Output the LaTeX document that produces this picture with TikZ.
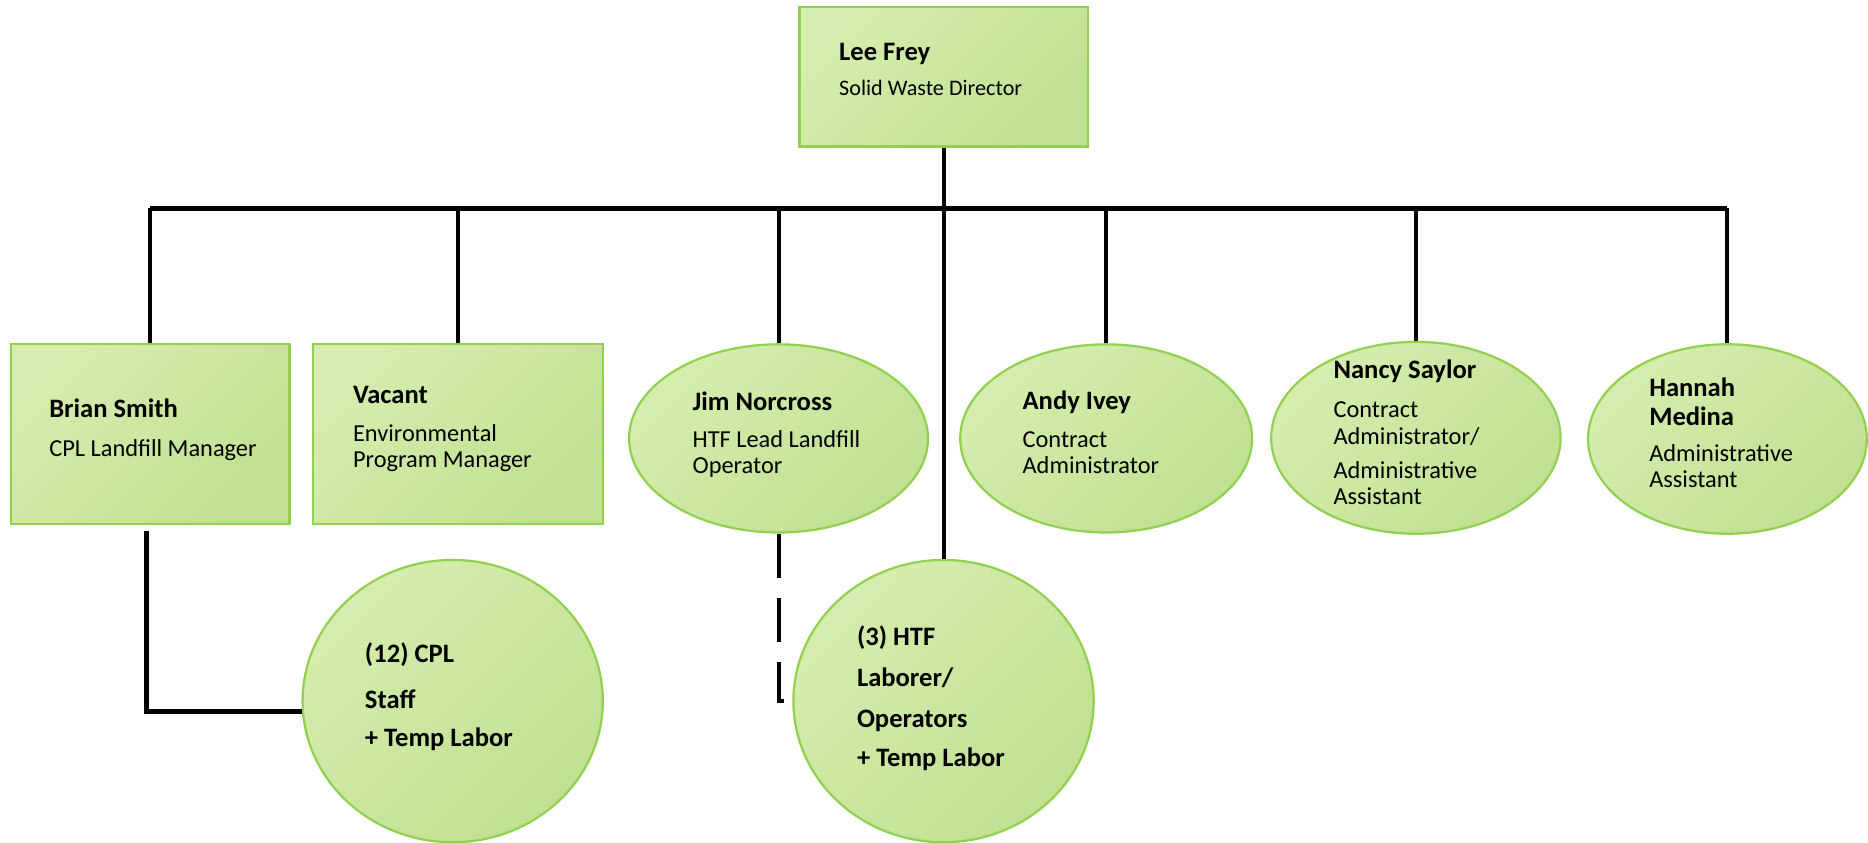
\documentclass[tikz,border=0pt]{standalone}
\usepackage{fontspec}
\setmainfont{Carlito}
\usetikzlibrary{shapes.geometric}
\definecolor{gLight}{RGB}{213,237,174}
\definecolor{gDark}{RGB}{192,224,146}
\definecolor{gEdge}{RGB}{146,208,80}
\newcommand\tline[5]{\node[#4] (#1) at (#2,#3) {#5};}
\begin{document}
\begin{tikzpicture}[x=0.5376pt,y=-0.5376pt,
  box/.style={draw=gEdge,line width=1pt,top color=gLight,bottom color=gDark,shading angle=45,inner sep=0pt},
  rbox/.style={box,rectangle},
  oval/.style={box,ellipse},
  nm/.style={anchor=mid west,inner sep=0pt,font=\fontsize{12}{14}\selectfont\bfseries},
  tt/.style={anchor=mid west,inner sep=0pt,font=\fontsize{11}{13}\selectfont},
  ts/.style={anchor=mid west,inner sep=0pt,font=\fontsize{10}{12}\selectfont},
  conn/.style={line width=1.8pt,black},
  busline/.style={line width=2.3pt,black},
  dconn/.style={conn,dash pattern=on 20pt off 9pt}]
\useasboundingbox (0,0) rectangle (1568,707);
% shapes
\node[rbox,minimum width=130.1pt,minimum height=62.9pt] (lee) at (792,64.5) {};
\node[rbox,minimum width=125.8pt,minimum height=81.2pt] (brian) at (126,364.5) {};
\node[rbox,minimum width=130.6pt,minimum height=81.2pt] (vacant) at (384.5,364.5) {};
\node[oval,minimum width=134.9pt,minimum height=84.9pt] (jim) at (653.5,368) {};
\node[oval,minimum width=131.7pt,minimum height=84.9pt] (andy) at (928.5,368) {};
\node[oval,minimum width=130.6pt,minimum height=86.6pt] (nancy) at (1188.5,367.5) {};
\node[oval,minimum width=125.8pt,minimum height=85.5pt] (hannah) at (1450,368.5) {};
\node[oval,minimum width=135.5pt,minimum height=127.4pt] (cpl) at (380,588.5) {};
\node[oval,minimum width=135.5pt,minimum height=127.4pt] (htf) at (792,588.5) {};
% connectors
\coordinate (bus) at (792,175);
\draw[conn] (lee.south) -- (htf.north);
\draw[busline] (bus -| brian.north) -- (bus -| hannah.north);
\draw[conn] (bus -| brian.north) -- (brian.north);
\draw[conn] (bus -| vacant.north) -- (vacant.north);
\draw[conn] (bus -| jim.north) -- (jim.north);
\draw[conn] (bus -| andy.north) -- (andy.north);
\draw[conn] (bus -| nancy.north) -- (nancy.north);
\draw[conn] (bus -| hannah.north) -- (hannah.north);
\coordinate (bdrop) at (123,446);
\draw[line width=2.1pt] (bdrop) |- (cpl.184);
\draw[dconn] (jim.south) |- (htf.west);
% texts
\tline{t1}{704}{46}{nm}{Lee Frey}
\tline{t2}{704}{76}{ts}{Solid Waste Director}
\tline{t3}{41}{346}{nm}{Brian Smith}
\tline{t4}{41}{379}{tt}{CPL Landfill Manager}
\tline{t5}{296}{334}{nm}{Vacant}
\tline{t6}{296}{366}{tt}{Environmental}
\tline{t7}{296}{388}{tt}{Program Manager}
\tline{t8}{581}{340}{nm}{Jim Norcross}
\tline{t9}{581}{371}{tt}{HTF Lead Landfill}
\tline{t10}{581}{393}{tt}{Operator}
\tline{t11}{858}{339}{nm}{Andy Ivey}
\tline{t12}{858}{371}{tt}{Contract}
\tline{t13}{858}{393}{tt}{Administrator}
\tline{t14}{1119}{313}{nm}{Nancy Saylor}
\tline{t15}{1119}{346}{tt}{Contract}
\tline{t16}{1119}{369}{tt}{Administrator/}
\tline{t17}{1119}{397}{tt}{Administrative}
\tline{t18}{1119}{419}{tt}{Assistant}
\tline{t19}{1384}{328}{nm}{Hannah}
\tline{t20}{1384}{353}{nm}{Medina}
\tline{t21}{1384}{383}{tt}{Administrative}
\tline{t22}{1384}{405}{tt}{Assistant}
\tline{t23}{306}{552}{nm}{(12) CPL}
\tline{t24}{306}{590}{nm}{Staff}
\tline{t25}{306}{622}{nm}{+ Temp Labor}
\tline{t26}{719}{537}{nm}{(3) HTF}
\tline{t27}{719}{572}{nm}{Laborer/}
\tline{t28}{719}{606}{nm}{Operators}
\tline{t29}{719}{639}{nm}{+ Temp Labor}
\end{tikzpicture}
\end{document}
